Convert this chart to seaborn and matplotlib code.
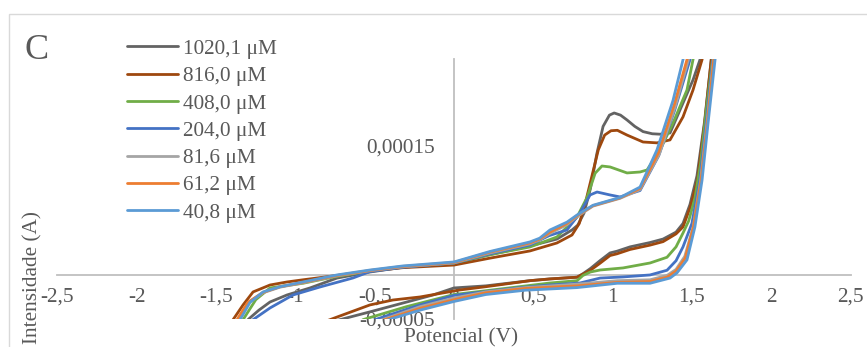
import numpy as np
import pandas as pd
import matplotlib
matplotlib.use("Agg")
import matplotlib.pyplot as plt
import seaborn as sns
from matplotlib.patches import Rectangle
from matplotlib.ticker import FixedLocator, FixedFormatter

# ---------------- data ----------------
series_labels = ["1020,1 μM", "816,0 μM", "408,0 μM", "204,0 μM", "81,6 μM", "61,2 μM", "40,8 μM"]
series_colors = ["#636363", "#9E480E", "#70AD47", "#4472C4", "#A5A5A5", "#ED7D31", "#5B9BD5"]

# potentials in V, currents in µA ; forward (anodic) then reverse sweep
E_1020_fwd = [-1.34, -1.299, -1.230, -1.160, -1.053, -0.908, -0.738, -0.530, -0.322, 0.000, 0.227, 0.479, 0.649,
              0.744, 0.780, 0.820, 0.860, 0.900, 0.940, 0.980, 1.010, 1.050, 1.091, 1.140, 1.192, 1.250, 1.299,
              1.362, 1.425, 1.507, 1.551, 1.57]
I_1020_fwd = [-65, -51, -40, -30.6, -22.5, -14.4, -3, 4, 9.5, 14, 24, 34, 42,
              52.5, 58, 72, 100, 140, 172, 185, 187.5, 185, 179.4, 172, 166, 163.5, 163,
              164.4, 191, 225.6, 249, 275]
E_1020_rev = [1.640, 1.622, 1.580, 1.532, 1.488, 1.444, 1.400, 1.318, 1.236, 1.110, 1.028, 0.984, 0.920, 0.860,
              0.813, 0.776, 0.605, 0.479, 0.200, 0.000, -0.132, -0.530, -0.782, -0.850]
I_1020_rev = [280, 249, 178, 115, 82, 60, 50, 42, 38, 33, 28, 26, 17, 8,
              2, -2, -4, -6, -12, -14.4, -22.5, -42, -54, -62]

E_816_fwd = [-1.43, -1.393, -1.330, -1.267, -1.160, -1.053, -0.952, -0.738, -0.530, -0.322, 0.000, 0.227, 0.479,
             0.649, 0.744, 0.790, 0.830, 0.870, 0.910, 0.950, 0.990, 1.030, 1.091, 1.192, 1.280, 1.362, 1.444,
             1.507, 1.564, 1.585]
I_816_fwd = [-65, -51, -34, -19, -11, -7.5, -5, 0, 5, 9, 12, 20, 28.3,
             37.5, 46.7, 60, 85, 115, 145, 162, 167, 167.5, 162, 154, 153, 156.4, 183,
             214, 249, 275]
E_816_rev = [1.640, 1.622, 1.580, 1.535, 1.490, 1.444, 1.400, 1.318, 1.236, 1.110, 1.028, 0.984, 0.920, 0.860,
             0.813, 0.776, 0.605, 0.479, 0.200, 0.038, -0.214, -0.385, -0.530, -0.738, -0.826, -0.870]
I_816_rev = [280, 249, 175, 110, 79, 56, 48, 39, 35, 30, 25, 23, 14, 6,
             1.5, -2, -4, -6, -13, -16.7, -24.8, -28.3, -34, -48, -54, -62]

E_408_fwd = [-1.37, -1.330, -1.250, -1.160, -0.952, -0.738, -0.530, -0.322, 0.000, 0.227, 0.479, 0.649, 0.776,
             0.839, 0.890, 0.933, 0.984, 1.091, 1.173, 1.217, 1.299, 1.381, 1.469, 1.507, 1.53]
I_408_fwd = [-65, -51, -28, -14.4, -9, -1, 5, 10, 14.4, 24, 32.9, 44.4, 67.5,
             90, 118, 126.3, 125.2, 118.3, 119.4, 121.7, 144.8, 176, 214, 249, 275]
E_408_rev = [1.650, 1.630, 1.590, 1.555, 1.520, 1.480, 1.444, 1.400, 1.343, 1.236, 1.066, 0.921, 0.860, 0.813,
             0.776, 0.605, 0.397, 0.000, -0.300, -0.574, -0.650]
I_408_rev = [280, 249, 190, 130, 90, 63, 49, 33, 21, 14.4, 8.7, 6.3, 4, 0,
             -6, -8.7, -13.3, -22, -36, -51, -65]

E_204_fwd = [-1.31, -1.267, -1.160, -1.015, -0.845, -0.637, -0.530, -0.322, 0.000, 0.227, 0.479, 0.600, 0.712,
             0.794, 0.858, 0.902, 0.984, 1.047, 1.173, 1.290, 1.390, 1.488, 1.51]
I_204_fwd = [-65, -51, -37.5, -22.5, -13.3, -2.9, 4.5, 9.5, 14.4, 25, 35.2, 46, 52.5,
             72, 92.9, 96.3, 92.9, 90.6, 98, 138, 190, 249, 275]
E_204_rev = [1.655, 1.632, 1.590, 1.550, 1.500, 1.444, 1.400, 1.343, 1.236, 1.066, 0.921, 0.794, 0.605, 0.397,
             0.000, -0.214, -0.549, -0.620]
I_204_rev = [280, 249, 176, 110, 60, 33, 17, 6, 0.6, -1.7, -3, -8.7, -11, -14.4,
             -23, -34, -54, -65]

E_81_fwd = [-1.41, -1.355, -1.30, -1.204, -1.097, -0.952, -0.738, -0.530, -0.322, 0.000, 0.227, 0.479, 0.540,
            0.605, 0.712, 0.776, 0.876, 1.047, 1.173, 1.295, 1.395, 1.478, 1.50]
I_81_fwd = [-65, -51, -32, -20, -13.5, -8.5, -0.5, 5.5, 10, 14.5, 26, 36.5, 41,
            48.5, 58.5, 68, 80, 89, 99, 140, 195, 249, 275]
E_81_rev = [1.660, 1.635, 1.595, 1.555, 1.508, 1.455, 1.400, 1.343, 1.236, 1.030, 0.776, 0.450, 0.200, 0.000,
            -0.214, -0.500, -0.570]
I_81_rev = [280, 249, 176, 110, 56, 22, 7, 0, -5, -6, -10, -14, -19, -26,
            -36, -54, -65]

E_61_fwd = [-1.42, -1.368, -1.30, -1.204, -1.097, -0.952, -0.738, -0.530, -0.322, 0.000, 0.227, 0.479, 0.540,
            0.605, 0.712, 0.776, 0.876, 1.047, 1.173, 1.290, 1.390, 1.469, 1.49]
I_61_fwd = [-65, -51, -31, -19.5, -13, -8, 0, 5.8, 10.5, 15, 27, 37.5, 42,
            50, 60, 69, 80.5, 89.5, 100.5, 142, 198, 249, 275]
E_61_rev = [1.662, 1.638, 1.598, 1.558, 1.510, 1.458, 1.400, 1.343, 1.236, 1.030, 0.776, 0.450, 0.200, 0.000,
            -0.214, -0.486, -0.560]
I_61_rev = [280, 249, 176, 110, 56, 20, 5, -2, -7, -8, -12, -15, -20, -28,
            -38, -54, -65]

E_40_fwd = [-1.40, -1.349, -1.286, -1.204, -1.097, -0.952, -0.738, -0.530, -0.322, 0.000, 0.227, 0.479, 0.540,
            0.605, 0.712, 0.776, 0.876, 1.047, 1.173, 1.280, 1.381, 1.444, 1.470]
I_40_fwd = [-65, -51, -31, -19, -13, -7.5, 0.6, 6.3, 11.0, 15.6, 27.7, 38.7, 43.0,
            52.5, 61.5, 69.8, 81.0, 90.0, 102, 145, 202, 249, 275]
E_40_rev = [1.670, 1.646, 1.602, 1.564, 1.519, 1.469, 1.406, 1.362, 1.236, 1.030, 0.776, 0.450, 0.200, 0.000,
            -0.214, -0.467, -0.550]
I_40_rev = [280, 249, 176, 110, 56, 18, 3, -3, -9, -9, -14, -17, -22, -30,
            -40, -54, -65]

x_ticks = [-2.5, -2, -1.5, -1, -0.5, 0, 0.5, 1, 1.5, 2, 2.5]
x_tick_labels = ["-2,5", "-2", "-1,5", "-1", "-0,5", "0", "0,5", "1", "1,5", "2", "2,5"]
y_ticks = [-0.00005, 0.00015]
y_tick_labels = ["-0,00005", "0,00015"]

series_E = [E_1020_fwd + E_1020_rev, E_816_fwd + E_816_rev, E_408_fwd + E_408_rev, E_204_fwd + E_204_rev,
            E_81_fwd + E_81_rev, E_61_fwd + E_61_rev, E_40_fwd + E_40_rev]
series_I = [I_1020_fwd + I_1020_rev, I_816_fwd + I_816_rev, I_408_fwd + I_408_rev, I_204_fwd + I_204_rev,
            I_81_fwd + I_81_rev, I_61_fwd + I_61_rev, I_40_fwd + I_40_rev]

# ---------------- style ----------------
sns.set_style("white")
plt.rcParams["font.family"] = ["Liberation Serif", "DejaVu Serif"]
FS = 15.3
TXT = "#595959"
AX = "#BFBFBF"

W, H = 867, 347
fig = plt.figure(figsize=(W / 100, H / 100), dpi=100)
x0, x1 = 57.5, 850.5
y0, y1 = 58.8, 318.8
ax = fig.add_axes([x0 / W, 1 - y1 / H, (x1 - x0) / W, (y1 - y0) / H])
ax.set_facecolor("none")

for lab, col, E, I in zip(series_labels, series_colors, series_E, series_I):
    sns.lineplot(x=E, y=np.array(I) * 1e-6, sort=False, estimator=None, color=col,
                 lw=2.0, label=lab, ax=ax)

ax.set_xlim(-2.5, 2.5)
ax.set_ylim(-0.00005, 0.00025)
ax.xaxis.set_major_locator(FixedLocator(x_ticks))
ax.xaxis.set_major_formatter(FixedFormatter(x_tick_labels))
ax.yaxis.set_major_locator(FixedLocator(y_ticks))
ax.yaxis.set_major_formatter(FixedFormatter(y_tick_labels))
ax.tick_params(axis="x", length=0, pad=9, labelsize=FS, labelcolor=TXT)
ax.tick_params(axis="y", length=0, pad=13.5, labelsize=FS, labelcolor=TXT)
ax.set_axisbelow(True)

for s in ["top", "right"]:
    ax.spines[s].set_visible(False)
ax.spines["left"].set_position(("data", 0))
ax.spines["bottom"].set_position(("data", 0))
for s in ["left", "bottom"]:
    ax.spines[s].set_color(AX)
    ax.spines[s].set_linewidth(1.3)
    ax.spines[s].set_zorder(0.5)
ax.set_xlabel("")
ax.set_ylabel("")

handles, labels = ax.get_legend_handles_labels()
ax.legend(handles, labels, loc="upper left", bbox_to_anchor=(127 / W, 1 - 39 / H),
          bbox_transform=fig.transFigure, frameon=False, borderpad=0, borderaxespad=0,
          handlelength=2.4, handletextpad=0.25, labelspacing=0.35, fontsize=FS, labelcolor=TXT)

fig.text(461 / W, 1 - 342 / H, "Potencial (V)", ha="center", va="baseline", fontsize=FS, color=TXT)
fig.text(33 / W, 1 - 278 / H, "Intensidade (A)", ha="center", va="center", rotation=90,
         fontsize=FS, color=TXT)
fig.text(25 / W, 1 - 59 / H, "C", ha="left", va="baseline", fontsize=26, color=TXT)

fig.patches.append(Rectangle((9 / W, -0.2), 1.2, 1.2 - 14 / H, transform=fig.transFigure,
                             fill=False, edgecolor="#D9D9D9", lw=1.0))

fig.savefig("out.png", dpi=100)
